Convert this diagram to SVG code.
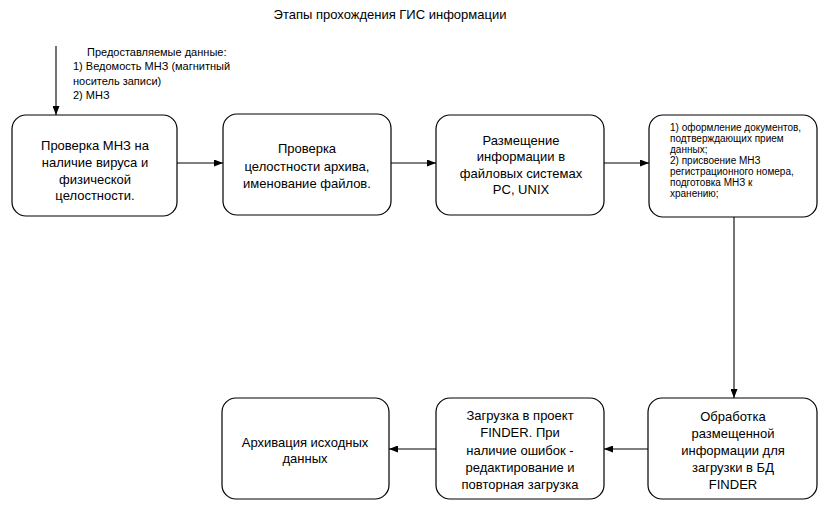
<svg xmlns="http://www.w3.org/2000/svg" width="831" height="517" viewBox="0 0 831 517">
<defs>
<marker id="arr" markerWidth="9" markerHeight="7" refX="9" refY="3.5" orient="auto" markerUnits="userSpaceOnUse">
<path d="M0,0 L9,3.5 L0,7 Z" fill="#000"/>
</marker>
<style>
.box{fill:#fff;stroke:#000;stroke-width:1.2}
.t{font-family:"Liberation Sans",Arial,sans-serif;font-size:13px;fill:#000;text-anchor:middle}
.s{font-family:"Liberation Sans",Arial,sans-serif;font-size:10px;fill:#000}
.m{font-family:"Liberation Sans",Arial,sans-serif;font-size:11px;fill:#000}
.c{fill:none;stroke:#000;stroke-width:1.1;marker-end:url(#arr)}
</style>
</defs>
<rect width="831" height="517" fill="#fff"/>
<text class="t" x="390" y="19">Этапы прохождения ГИС информации</text>

<g id="input-label">
<text class="m" x="87" y="56">Предоставляемые данные:</text>
<text class="m" x="73" y="70">1) Ведомость МНЗ (магнитный</text>
<text class="m" x="73" y="85">носитель записи)</text>
<text class="m" x="73" y="99">2) МНЗ</text>
</g>

<g id="n1">
<rect class="box" x="12" y="115" width="165" height="101" rx="14"/>
<text class="t" x="95" y="150">Проверка МНЗ на</text>
<text class="t" x="95" y="167">наличие вируса и</text>
<text class="t" x="95" y="184">физической</text>
<text class="t" x="95" y="200">целостности.</text>
</g>
<g id="n2">
<rect class="box" x="223" y="114" width="168" height="101" rx="14"/>
<text class="t" x="307" y="153">Проверка</text>
<text class="t" x="307" y="171">целостности архива,</text>
<text class="t" x="307" y="188">именование файлов.</text>
</g>
<g id="n3">
<rect class="box" x="436" y="115" width="168" height="100" rx="14"/>
<text class="t" x="521" y="145">Размещение</text>
<text class="t" x="521" y="161">информации в</text>
<text class="t" x="521" y="178">файловых системах</text>
<text class="t" x="521" y="194">PC, UNIX</text>
</g>
<g id="n4">
<rect class="box" x="649" y="115" width="168" height="102" rx="14"/>
<text class="s" x="670" y="131">1) оформление документов,</text>
<text class="s" x="670" y="142">подтверждающих прием</text>
<text class="s" x="670" y="153">данных;</text>
<text class="s" x="670" y="164">2) присвоение МНЗ</text>
<text class="s" x="670" y="175">регистрационного номера,</text>
<text class="s" x="670" y="186">подготовка МНЗ к</text>
<text class="s" x="670" y="197">хранению;</text>
</g>
<g id="n5">
<rect class="box" x="648" y="398" width="169" height="101" rx="14"/>
<text class="t" x="733" y="421">Обработка</text>
<text class="t" x="733" y="438">размещенной</text>
<text class="t" x="733" y="455">информации для</text>
<text class="t" x="733" y="472">загрузки в БД</text>
<text class="t" x="733" y="489">FINDER</text>
</g>
<g id="n6">
<rect class="box" x="436" y="398" width="168" height="101" rx="14"/>
<text class="t" x="520" y="420">Загрузка в проект</text>
<text class="t" x="520" y="437">FINDER. При</text>
<text class="t" x="520" y="455">наличие ошибок -</text>
<text class="t" x="520" y="472">редактирование и</text>
<text class="t" x="520" y="489">повторная загрузка</text>
</g>
<g id="n7">
<rect class="box" x="222" y="398" width="167" height="101" rx="14"/>
<text class="t" x="305" y="447">Архивация исходных</text>
<text class="t" x="305" y="463">данных</text>
</g>

<g id="connectors">
<path class="c" d="M56,46 L56,115"/>
<path class="c" d="M177,163 L223,163"/>
<path class="c" d="M391,163 L436,163"/>
<path class="c" d="M604,163 L649,163"/>
<path class="c" d="M734,217 L734,398"/>
<path class="c" d="M648,449 L604,449"/>
<path class="c" d="M436,449 L389,449"/>
</g>
</svg>
